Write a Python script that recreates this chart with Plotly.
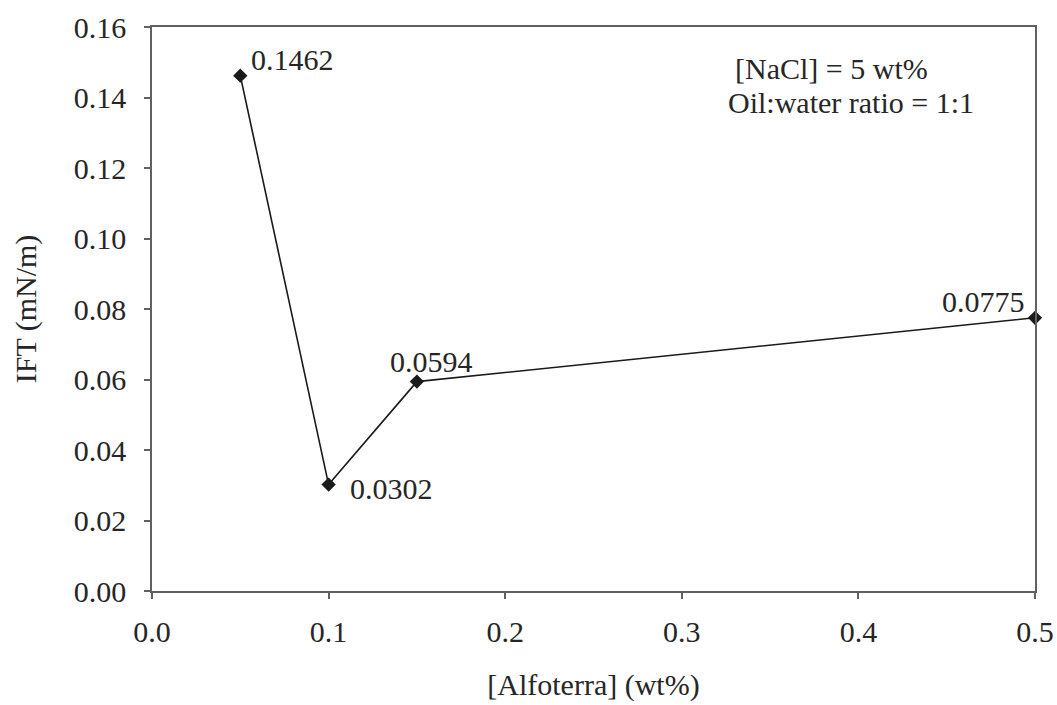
import plotly.graph_objects as go

# Alfoterra concentration (wt%) and measured interfacial tension (mN/m)
alfoterra = [0.05, 0.10, 0.15, 0.50]
ift = [0.1462, 0.0302, 0.0594, 0.0775]
labels = ["0.1462", "0.0302", "0.0594", "0.0775"]

x_ticks = [0.0, 0.1, 0.2, 0.3, 0.4, 0.5]
y_ticks = [0.00, 0.02, 0.04, 0.06, 0.08, 0.10, 0.12, 0.14, 0.16]

condition_lines = ["[NaCl] = 5 wt%", "Oil:water ratio = 1:1"]

FONT = "Liberation Serif"
INK = "#262626"
AXIS = "#606060"
SIZE = 30

fig = go.Figure()
fig.add_trace(go.Scatter(
    x=alfoterra, y=ift, mode="lines+markers",
    line=dict(color="#1a1a1a", width=1.6),
    marker=dict(symbol="diamond", size=11, color="#1a1a1a"),
    cliponaxis=False, showlegend=False,
))

# value labels placed beside each point (pixel offsets from the marker)
offsets = [(9, 16, "left"), (19, -4, "left"), (-29, 20, "left"), (-8, 16, "right")]
for xv, yv, txt, (dx, dy, anchor) in zip(alfoterra, ift, labels, offsets):
    fig.add_annotation(
        x=xv, y=yv, xref="x", yref="y", text=txt, showarrow=False,
        xanchor=anchor, yanchor="middle", xshift=dx, yshift=dy,
        font=dict(family=FONT, size=SIZE, color=INK),
    )

# experimental conditions, upper right
for txt, px, py in zip(condition_lines, [0.770, 0.792], [0.926, 0.867]):
    fig.add_annotation(
        x=px, y=py, xref="paper", yref="paper", text=txt, showarrow=False,
        xanchor="center", yanchor="middle",
        font=dict(family=FONT, size=SIZE, color=INK),
    )

axis_common = dict(
    showline=True, linecolor=AXIS, linewidth=1.5, mirror=True,
    ticks="outside", ticklen=6, tickcolor=AXIS, tickwidth=1.5,
    showgrid=False, zeroline=False, automargin=False,
    tickfont=dict(family=FONT, size=SIZE, color=INK),
)

fig.update_layout(
    width=1057, height=705,
    margin=dict(l=152, r=22, t=27, b=114),
    paper_bgcolor="white", plot_bgcolor="white",
    xaxis=dict(range=[0, 0.5], tickvals=x_ticks, tickformat=".1f",
               ticklabelstandoff=7,
               title=dict(text="[Alfoterra] (wt%)", standoff=27,
                          font=dict(family=FONT, size=SIZE, color=INK)),
               **axis_common),
    yaxis=dict(range=[0, 0.16], tickvals=y_ticks, tickformat=".2f",
               ticklabelstandoff=12,
               title=dict(text="IFT (mN/m)", standoff=28,
                          font=dict(family=FONT, size=SIZE, color=INK)),
               **axis_common),
)

fig.write_html("out.html")
